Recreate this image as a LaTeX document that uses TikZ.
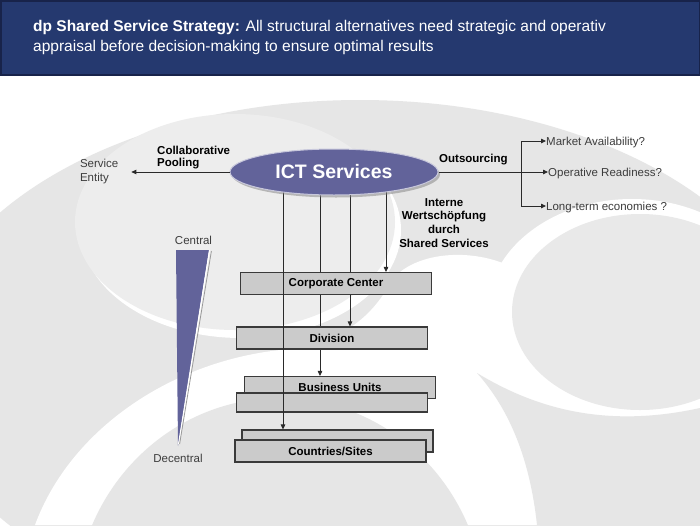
\documentclass[tikz,border=0pt]{standalone}
\usepackage{fontspec}
\setmainfont{Liberation Sans}
\usetikzlibrary{shapes.geometric,arrows.meta,shadows}
\definecolor{hdr}{HTML}{25396F}
\definecolor{hdrline}{HTML}{18234A}
\definecolor{pur}{HTML}{62639A}
\definecolor{boxf}{HTML}{CBCBCB}
\definecolor{boxd}{HTML}{3A3A3A}
\definecolor{bgA}{HTML}{E6E6E6}
\definecolor{bgB}{HTML}{EDEDED}
\definecolor{bgC}{HTML}{E9E9E9}
\definecolor{lab}{HTML}{3C3C3C}
\definecolor{wire}{HTML}{2A2A2A}
\pgfdeclarelayer{back}
\pgfdeclarelayer{under}
\pgfdeclarelayer{boxes}
\pgfdeclarelayer{wires}
\pgfsetlayers{back,under,boxes,wires,main}
\tikzset{
  levelbox/.style={draw=boxd, fill=boxf, line width=1.1pt, minimum width=191pt,
    minimum height=22pt, inner sep=0pt, font=\fontsize{11.5}{13}\selectfont\bfseries},
  wirearrow/.style={draw=wire, line width=0.8pt, -{Triangle[length=5pt,width=4.5pt]}},
  wireplain/.style={draw=wire, line width=0.8pt},
  boldlab/.style={font=\fontsize{11.5}{13.8}\selectfont\bfseries, text=black, inner sep=0pt},
  plainlab/.style={font=\fontsize{11.5}{14}\selectfont, text=lab, inner sep=0pt},
  qlab/.style={plainlab, anchor=west, text height=9.5pt, text depth=1.5pt},
  titletext/.style={anchor=base west, text=white, font=\fontsize{15.5}{18}\selectfont, inner sep=0pt}
}
\begin{document}
\begin{tikzpicture}[x=1pt,y=-1pt]
\useasboundingbox (0,0) rectangle (700,525);
\begin{pgfonlayer}{back}
  \fill[white] (0,0) rectangle (700,525);
  \begin{scope}
    \clip (0,75) rectangle (700,525);
    \fill[bgA] (360,365) ellipse [x radius=440, y radius=265];
    \fill[white] (241,230) ellipse [x radius=160, y radius=108];
    \fill[bgB] (235,222) ellipse [x radius=160, y radius=108];
    \fill[white] (35,525) .. controls (70,430) and (170,362) .. (280,350)
      .. controls (340,344) and (372,318) .. (392,280)
      .. controls (412,255) and (460,248) .. (500,262)
      -- (600,300) -- (560,420) -- (540,525) -- cycle;
    \fill[white] (632,312) ellipse [x radius=145, y radius=113];
    \fill[bgC] (640,312) ellipse [x radius=128, y radius=98];
    \fill[bgA] (280,610) ellipse [x radius=205, y radius=212];
    \fill[bgA] (477,373) .. controls (530,405) and (600,430) .. (700,408)
      -- (700,525) -- (537,525) .. controls (530,460) and (510,410) .. (477,373) -- cycle;
  \end{scope}
  \fill[hdr] (0,0) rectangle (700,75);
  \draw[hdrline, line width=1.5pt] (0.75,0.75) rectangle (699.25,75);
\end{pgfonlayer}

% title
\node[titletext] (t1) at (33,31) {\textbf{dp Shared Service Strategy:} All structural alternatives need strategic and operativ};
\node[titletext] (t2) at (33,51) {appraisal before decision-making to ensure optimal results};

% central ellipse
\node[ellipse, fill=pur, draw=pur!35!white, line width=1pt, minimum width=208pt,
  minimum height=46pt, inner sep=0pt, text=white,
  font=\fontsize{19.5}{22}\selectfont\bfseries,
  drop shadow={shadow xshift=2pt, shadow yshift=-2.5pt, fill=black!50, opacity=0.5}]
  (ict) at (334,172) {ICT Services};

% level boxes
\begin{pgfonlayer}{boxes}
  \node[levelbox] (cc) at (336,283.5) {Corporate Center};
  \node[levelbox] (dv) at (332,338) {Division};
  \node[levelbox] (bu) at (340,387.5) {Business Units};
  \node[levelbox, minimum height=19pt] (bu2) at (332,402.5) {};
  \node[levelbox] (cs) at (337.5,441) {};
  \node[levelbox] (cs2) at (330.5,451) {Countries/Sites};
\end{pgfonlayer}

% vertical connectors
\coordinate (d1) at (283,172);
\coordinate (d2) at (320,172);
\coordinate (d3) at (350,172);
\coordinate (d4) at (386,172);
\begin{pgfonlayer}{under}
  \draw[wirearrow] (d2) -- (d2 |- bu.north);
  \draw[wirearrow] (d3) -- (d3 |- dv.north);
  \draw[wirearrow] (d4) -- (d4 |- cc.north);
\end{pgfonlayer}
\begin{pgfonlayer}{wires}
  \draw[wirearrow] (d1) -- (d1 |- cs.north);
\end{pgfonlayer}

% left side
\node[boldlab, align=left, anchor=north west, font=\fontsize{11.5}{12.5}\selectfont\bfseries]
  (cp) at (157,145.5) {Collaborative\\Pooling};
\node[plainlab, align=left, anchor=west, outer xsep=13pt] (se) at (67,172) {Service\\Entity};
\draw[wirearrow] (ict.west) -- (ict.west -| se.east);

% right side
\node[boldlab, anchor=base west] (os) at (439,162.7) {Outsourcing};
\node[boldlab, align=center, anchor=north] (iw) at (444,198) {Interne\\Wertschöpfung\\durch\\Shared Services};
\node[qlab] (mkt) at (546,141) {Market Availability?};
\node[qlab] (ops) at (548,172) {Operative Readiness?};
\node[qlab] (lte) at (546,206) {Long-term economies ?};
\coordinate (br) at (521,172);
\draw[wirearrow] (ict.east) -- (ops.west);
\draw[wireplain] (br |- mkt.west) -- (br |- lte.west);
\draw[wirearrow] (br |- mkt.west) -- (mkt.west);
\draw[wirearrow] (br |- lte.west) -- (lte.west);

% central / decentral wedge
\fill[pur] (176,250) -- (209,250) -- (178,446) -- cycle;
\draw[white, line width=1.2pt] (209.6,250) -- (178.6,444);
\draw[black!40, line width=0.8pt] (211.4,251) -- (179.6,444);
\node[plainlab, anchor=base] (ce) at (193.5,244) {Central};
\node[plainlab, anchor=base] (de) at (178,462.5) {Decentral};
\end{tikzpicture}
\end{document}
